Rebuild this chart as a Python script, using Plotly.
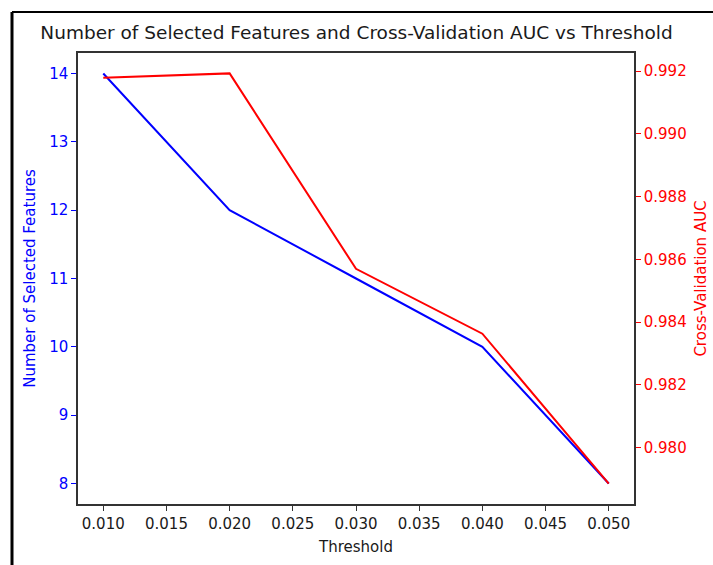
import plotly.graph_objects as go

thresholds = [0.010, 0.020, 0.030, 0.040, 0.050]
num_features = [14, 12, 11, 10, 8]
cv_auc = [0.99179, 0.99193, 0.98570, 0.98363, 0.97885]

x_ticks = [0.010, 0.015, 0.020, 0.025, 0.030, 0.035, 0.040, 0.045, 0.050]
y1_ticks = [8, 9, 10, 11, 12, 13, 14]
y2_ticks = [0.980, 0.982, 0.984, 0.986, 0.988, 0.990, 0.992]

FONT = "DejaVu Sans"
TXT = "#1a1a1a"
FS = 15

fig = go.Figure()
fig.add_trace(go.Scatter(x=thresholds, y=num_features, mode="lines",
                         line=dict(color="#0000ff", width=2), yaxis="y",
                         name="Number of Selected Features", showlegend=False))
fig.add_trace(go.Scatter(x=thresholds, y=cv_auc, mode="lines",
                         line=dict(color="#ff0000", width=2), yaxis="y2",
                         name="Cross-Validation AUC", showlegend=False))

fig.update_layout(
    width=713, height=565,
    margin=dict(l=78, r=79, t=53, b=61, autoexpand=False),
    paper_bgcolor="white", plot_bgcolor="white",
    font=dict(family=FONT, size=FS, color=TXT),
    title=dict(text="Number of Selected Features and Cross-Validation AUC vs Threshold",
               x=0.5, xanchor="center", y=1 - 33 / 565, yanchor="middle",
               font=dict(family=FONT, size=18.5, color=TXT)),
    xaxis=dict(range=[0.008, 0.052], tickvals=x_ticks,
               ticktext=[f"{v:.3f}" for v in x_ticks], automargin=False,
               showgrid=False, zeroline=False, showline=True, linecolor="#333333",
               linewidth=1.5, mirror=True, ticks="outside", ticklen=5,
               tickcolor="#333333", tickfont=dict(size=FS, color=TXT),
               title=dict(text="Threshold", font=dict(size=FS, color=TXT), standoff=10)),
    yaxis=dict(range=[7.7, 14.3], tickvals=y1_ticks,
               ticktext=[str(v) for v in y1_ticks], automargin=False,
               showgrid=False, zeroline=False, showline=True, linecolor="#333333",
               linewidth=1.5, ticks="outside", ticklen=5, tickcolor="#0000ff",
               tickfont=dict(size=FS, color="#0000ff"),
               title=dict(text="Number of Selected Features",
                          font=dict(size=FS, color="#0000ff"), standoff=10)),
    yaxis2=dict(range=[0.97820, 0.99258], overlaying="y", side="right",
                tickvals=y2_ticks, ticktext=[f"{v:.3f}" for v in y2_ticks],
                automargin=False,
                showgrid=False, zeroline=False, showline=True, linecolor="#333333",
                linewidth=1.5, ticks="outside", ticklen=5, tickcolor="#ff0000",
                tickfont=dict(size=FS, color="#ff0000"),
                title=dict(text="Cross-Validation AUC",
                           font=dict(size=FS, color="#ff0000"), standoff=10)),
    shapes=[
        dict(type="line", xref="paper", yref="paper",
             x0=(12 - 78) / 556, x1=(12 - 78) / 556,
             y0=1 + (53 - 12) / 451, y1=-0.3,
             line=dict(color="black", width=3)),
        dict(type="line", xref="paper", yref="paper",
             x0=(12 - 78) / 556, x1=1.3,
             y0=1 + (53 - 12) / 451, y1=1 + (53 - 12) / 451,
             line=dict(color="black", width=2)),
    ],
)

fig.write_html("out.html")
